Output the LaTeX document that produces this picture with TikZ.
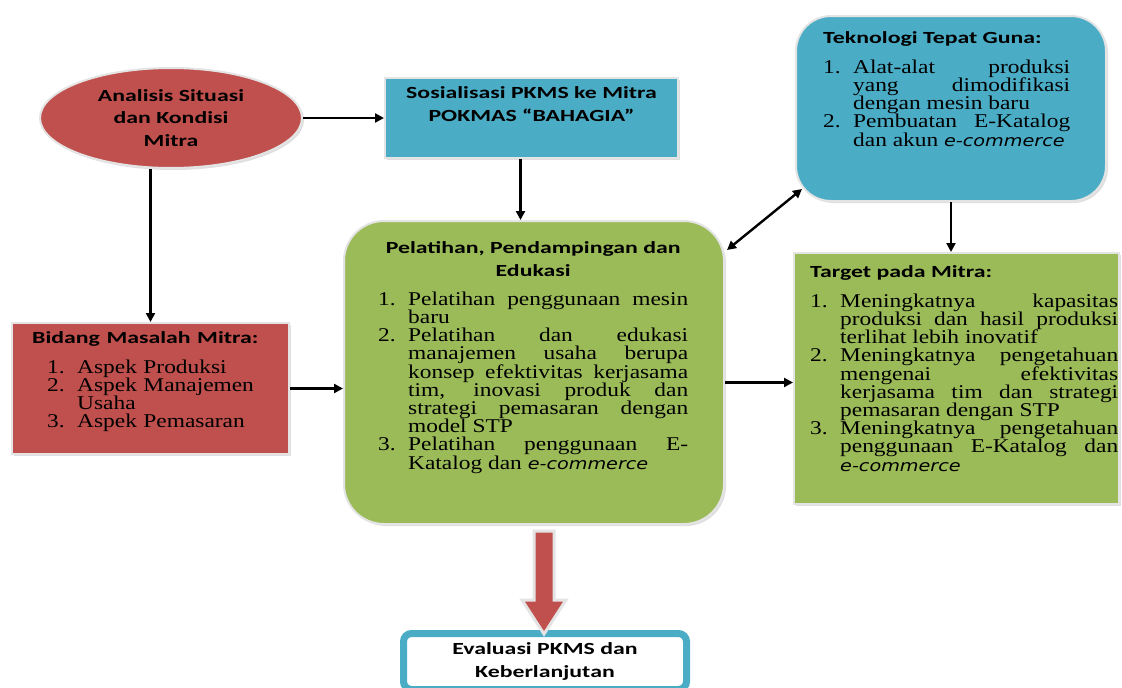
\documentclass[tikz,border=0pt]{standalone}
\usepackage{fontspec}
\setmainfont{Liberation Serif}[FakeStretch=1.2]
\newfontfamily\headfont{Carlito}[FakeStretch=1.4]
\newfontfamily\ecfont{DejaVu Sans}[FakeStretch=1.2]
\usepackage{xcolor}
\usepackage{enumitem}
\usepackage{tikz}
\usetikzlibrary{arrows.meta, positioning, shapes.geometric, shadows, calc}
\definecolor{mitrared}{HTML}{C0504D}
\definecolor{pkmsblue}{HTML}{4BACC6}
\definecolor{latgreen}{HTML}{9BBB59}
\definecolor{rimcol}  {HTML}{E4E4E4}
\newcommand{\ecom}{{\ecfont\itshape\fontsize{16}{18}\selectfont e-commerce}}
\newcommand{\headtxt}{\headfont\bfseries\fontsize{17}{23}\selectfont}
\setlist[enumerate]{leftmargin=30pt, labelwidth=20pt, labelsep=10pt,
                    align=left, topsep=0pt, itemsep=0pt, parsep=0pt,
                    partopsep=0pt}
\tolerance=10000
\hbadness=10000
\hyphenpenalty=10000

\begin{document}
\begin{tikzpicture}[
    x=1pt, y=-1pt,
    every node/.style = {inner sep=0pt},
    box/.style = {
        draw=rimcol, line width=2pt, anchor=north west,
        drop shadow={shadow xshift=2pt, shadow yshift=-2pt, opacity=0.25}
    },
    redbox/.style   = {box, fill=mitrared},
    bluebox/.style  = {box, fill=pkmsblue},
    greenbox/.style = {box, fill=latgreen},
    head/.style     = {font=\headtxt},
    txt/.style      = {anchor=north west, align=justify,
                       font=\fontsize{19.5}{18.2}\selectfont},
    arr/.style      = {-{Triangle[length=9pt, width=9pt]}, line width=2.4pt},
    dblarr/.style   = {{Triangle[length=9pt, width=9pt]}-{Triangle[length=9pt, width=9pt]},
                       line width=2.4pt},
    bigarr/.style   = {fill=mitrared, draw=rimcol, line width=3pt}
  ]
  \useasboundingbox (0,0) rectangle (1122,688);

  %% Analisis situasi
  \node[box, ellipse, fill=mitrared, anchor=center, head, align=center,
        minimum width=262pt, minimum height=100pt] (situasi) at (171,118)
       {Analisis Situasi\\[-0.5pt]dan Kondisi\\[-0.5pt]Mitra};

  %% Sosialisasi
  \node[bluebox, minimum width=293pt, minimum height=80pt] (sos) at (384,77) {};
  \node[head, anchor=north, align=center] (sostxt) at ([yshift=-9pt]sos.north)
       {Sosialisasi PKMS ke Mitra\\POKMAS “BAHAGIA”};

  %% Teknologi tepat guna
  \node[bluebox, rounded corners=35pt, minimum width=310pt,
        minimum height=185pt] (tekno) at (795,15) {};
  \node[txt, text width=247pt] (teknotxt) at ([xshift=28pt, yshift=-16pt]tekno.north west)
       {{\headtxt Teknologi Tepat Guna:\par}
        \vspace{12pt}
        \begin{enumerate}
          \item Alat-alat produksi yang dimodifikasi dengan mesin baru
          \item Pembuatan E-Katalog dan akun \ecom
        \end{enumerate}};

  %% Bidang masalah
  \node[redbox, minimum width=277pt, minimum height=131pt] (bidang) at (11,322) {};
  \node[txt, align=left, text width=250pt] (bidangtxt) at ([xshift=21pt, yshift=-9pt]bidang.north west)
       {{\headtxt Bidang Masalah Mitra:\par}
        \vspace{12pt}
        \begin{enumerate}[leftmargin=45pt]
          \item Aspek Produksi
          \item Aspek Manajemen Usaha
          \item Aspek Pemasaran
        \end{enumerate}};

  %% Pelatihan
  \node[greenbox, rounded corners=40pt, minimum width=380pt,
        minimum height=303pt] (pelatihan) at (343,220) {};
  \node[txt, text width=310pt] (pelatihantxt) at ([xshift=35pt, yshift=-21pt]pelatihan.north west)
       {{\centering\headtxt
         Pelatihan, Pendampingan dan\\Edukasi\par}
        \vspace{11pt}
        \begin{enumerate}
          \item Pelatihan penggunaan mesin baru
          \item Pelatihan dan edukasi manajemen usaha berupa konsep
                efektivitas kerjasama tim, inovasi produk dan strategi
                pemasaran dengan model STP
          \item Pelatihan penggunaan E-Katalog dan \ecom
        \end{enumerate}};

  %% Target
  \node[greenbox, minimum width=325pt, minimum height=251pt] (target) at (793,252) {};
  \node[txt, text width=308pt] (targettxt) at ([xshift=17pt, yshift=-13pt]target.north west)
       {{\headtxt Target pada Mitra:\par}
        \vspace{12pt}
        \begin{enumerate}
          \item Meningkatnya kapasitas produksi dan hasil produksi terlihat
                lebih inovatif
          \item Meningkatnya pengetahuan mengenai efektivitas kerjasama tim
                dan strategi pemasaran dengan STP
          \item Meningkatnya pengetahuan penggunaan E-Katalog dan \ecom
        \end{enumerate}};

  %% Evaluasi
  \node[box, fill=white, draw=pkmsblue, line width=7pt, rounded corners=8pt,
        minimum width=283pt, minimum height=56pt, head, align=center] (evaluasi)
       at (400,630) {Evaluasi PKMS dan\\Keberlanjutan};

  %% Arrows
  \draw[arr] (situasi.east) -- (situasi.east -| sos.west);
  \draw[arr] (bidang.north |- situasi.south) -- (bidang.north);
  \draw[arr] ([xshift=-11pt]sos.south) -- ([xshift=-11pt]sos.south |- pelatihan.north);
  \draw[arr] (bidang.east) -- (bidang.east -| pelatihan.west);
  \draw[arr] ([yshift=-10pt]pelatihan.east) -- ([yshift=-10pt]pelatihan.east -| target.west);
  \draw[arr] (tekno.south) -- (tekno.south |- target.north);
  \draw[dblarr] ([xshift=2pt, yshift=-30pt]pelatihan.north east)
             -- ([xshift=7pt, yshift=13pt]tekno.south west);

  \coordinate (evtop) at ([xshift=10pt, yshift=-6pt]pelatihan.south);
  \coordinate (evtip) at (evtop |- evaluasi.north);
  \filldraw[bigarr]
      ([xshift=-10pt]evtop) -- ([xshift=10pt]evtop)
      -- ([xshift=10pt, yshift=30pt]evtip) -- ([xshift=22pt, yshift=30pt]evtip)
      -- ([yshift=-4pt]evtip) -- ([xshift=-22pt, yshift=30pt]evtip)
      -- ([xshift=-10pt, yshift=30pt]evtip) -- cycle;

\end{tikzpicture}
\end{document}
